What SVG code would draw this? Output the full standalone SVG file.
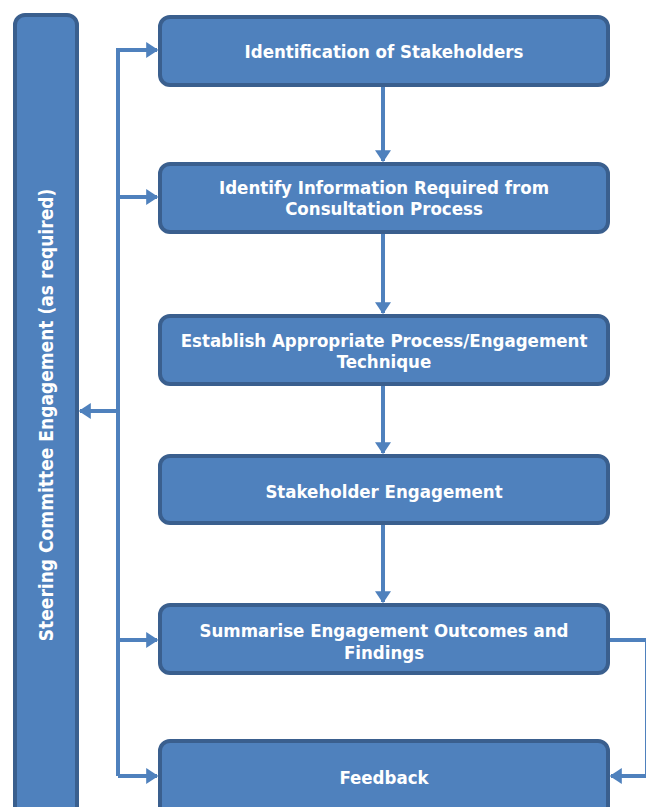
<svg xmlns="http://www.w3.org/2000/svg" width="646" height="807" viewBox="0 0 646 807">
<defs>
<style>
.box{fill:#4F81BD;stroke:#3A5F8E;stroke-width:4}
.t{fill:#fff;font-family:"DejaVu Sans Condensed","DejaVu Sans",sans-serif;font-weight:bold;font-size:18.5px;text-anchor:middle}
.v{font-size:19px}
.c{fill:none;stroke:#4F81BD;stroke-width:4}
</style>
<marker id="ah" viewBox="0 0 10 10" refX="9" refY="5" markerWidth="3" markerHeight="4" orient="auto" markerUnits="strokeWidth" preserveAspectRatio="none">
<path d="M0,0 L10,5 L0,10 Z" fill="#4F81BD"/>
</marker>
</defs>
<rect width="646" height="807" fill="#fff"/>
<g id="connectors">
<path class="c" d="M118,776 V50 H157" marker-end="url(#ah)"/>
<path class="c" d="M118,197 H157" marker-end="url(#ah)"/>
<path class="c" d="M118,640 H157" marker-end="url(#ah)"/>
<path class="c" d="M118,776 H157" marker-end="url(#ah)"/>
<path class="c" d="M118,411 H80" marker-end="url(#ah)"/>
<path class="c" d="M383,86 V161" marker-end="url(#ah)"/>
<path class="c" d="M383,233 V313" marker-end="url(#ah)"/>
<path class="c" d="M383,385 V453" marker-end="url(#ah)"/>
<path class="c" d="M383,524 V602" marker-end="url(#ah)"/>
<path class="c" d="M610,640 H647 V776 H611" marker-end="url(#ah)"/>
</g>
<g id="steering">
<rect class="box" x="15" y="15" width="62" height="810" rx="10"/>
<text class="t v" transform="translate(53,415) rotate(-90)">Steering Committee Engagement (as required)</text>
</g>
<g id="n1">
<rect class="box" x="160" y="17" width="448" height="68" rx="10"/>
<text class="t" x="384" y="58">Identification of Stakeholders</text>
</g>
<g id="n2">
<rect class="box" x="160" y="164" width="448" height="68" rx="10"/>
<text class="t" x="384" y="194">Identify Information Required from</text>
<text class="t" x="384" y="215">Consultation Process</text>
</g>
<g id="n3">
<rect class="box" x="160" y="316" width="448" height="68" rx="10"/>
<text class="t" x="384" y="347">Establish Appropriate Process/Engagement</text>
<text class="t" x="384" y="368">Technique</text>
</g>
<g id="n4">
<rect class="box" x="160" y="456" width="448" height="67" rx="10"/>
<text class="t" x="384" y="498">Stakeholder Engagement</text>
</g>
<g id="n5">
<rect class="box" x="160" y="605" width="448" height="68" rx="10"/>
<text class="t" x="384" y="637">Summarise Engagement Outcomes and</text>
<text class="t" x="384" y="659">Findings</text>
</g>
<g id="n6">
<rect class="box" x="160" y="741" width="448" height="80" rx="10"/>
<text class="t" x="384" y="784">Feedback</text>
</g>
</svg>
